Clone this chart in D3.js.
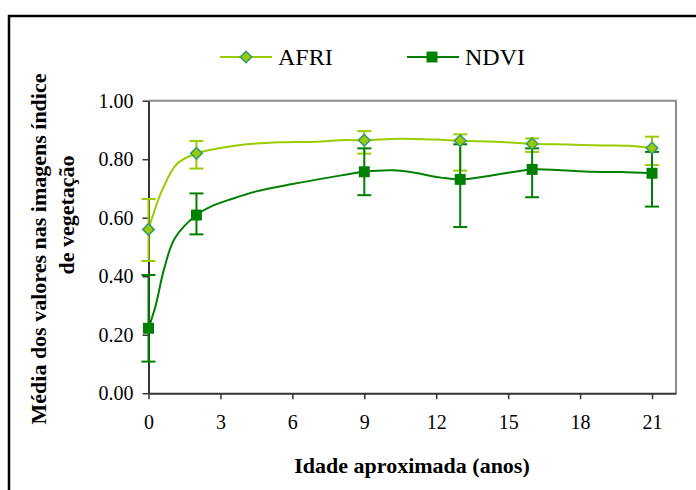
<!DOCTYPE html>
<html lang="pt-br">
<head>
<meta charset="utf-8">
<script src="https://d3js.org/d3.v7.min.js"></script>
<style>
    body { margin: 0; background: #fff; }
    #chart text { font-family: "Liberation Serif", "Times New Roman", serif; fill: #000; }
</style>
</head>
<body>
<div id="chart"></div>
<script>
    "use strict"

    // valores médios (marcadores) e barras de erro
    var ages = [0, 2, 9, 13, 16, 21];
    var afriMean = [0.560, 0.820, 0.865, 0.863, 0.853, 0.838];
    var afriLow = [0.452, 0.768, 0.819, 0.761, 0.825, 0.780];
    var afriHigh = [0.664, 0.862, 0.896, 0.885, 0.871, 0.877];
    var ndviMean = [0.222, 0.609, 0.757, 0.731, 0.765, 0.752];
    var ndviLow = [0.108, 0.543, 0.677, 0.568, 0.670, 0.638];
    var ndviHigh = [0.404, 0.683, 0.837, 0.851, 0.837, 0.825];

    // linhas suavizadas
    var afriCurveX = [0, 0.6, 1.2, 2, 3, 4, 5.5, 7, 8, 9, 10.5, 12, 13, 14.5, 16, 17.5, 19, 20, 21];
    var afriCurveY = [0.56, 0.70, 0.785, 0.82, 0.838, 0.85, 0.858, 0.86, 0.865, 0.865, 0.870, 0.867, 0.863, 0.860, 0.853, 0.850, 0.847, 0.846, 0.838];
    var ndviCurveX = [0, 0.3, 0.65, 1.1, 2, 2.6, 3.5, 4.5, 6, 7.5, 9, 10.2, 11, 12.2, 13, 14.5, 16, 17.2, 18.5, 19.7, 21];
    var ndviCurveY = [0.222, 0.30, 0.425, 0.53, 0.609, 0.638, 0.665, 0.69, 0.715, 0.737, 0.757, 0.762, 0.755, 0.737, 0.731, 0.747, 0.765, 0.762, 0.757, 0.756, 0.752];

    var xTicks = [0, 3, 6, 9, 12, 15, 18, 21];
    var yTicks = [0, 0.2, 0.4, 0.6, 0.8, 1.0];

    var afriColor = "#99cc00", afriEdge = "#339977", ndviColor = "#008000";

    var svg = d3.select("#chart").append("svg")
        .attr("width", 696).attr("height", 490);

    // moldura externa
    svg.append("rect")
        .attr("x", 9).attr("y", 16).attr("width", 720).attr("height", 520)
        .attr("fill", "none").attr("stroke", "#000").attr("stroke-width", 2.5);

    var x = d3.scaleLinear().domain([0, 22]).range([148.5, 676]);
    var y = d3.scaleLinear().domain([0, 1]).range([393.2, 100.7]);

    // borda da área de plotagem
    svg.append("path")
        .attr("d", "M" + x(0) + "," + y(1) + "H" + x(22) + "V" + y(0))
        .attr("fill", "none").attr("stroke", "#8c8c8c").attr("stroke-width", 2);

    var xAxis = svg.append("g")
        .attr("transform", "translate(0," + y(0) + ")")
        .call(d3.axisBottom(x).tickValues(xTicks).tickSize(6).tickSizeOuter(0).tickPadding(16));

    var yAxis = svg.append("g")
        .attr("transform", "translate(" + x(0) + ",0)")
        .call(d3.axisLeft(y).tickValues(yTicks).tickFormat(d3.format(".2f")).tickSize(6).tickSizeOuter(0).tickPadding(9));

    [xAxis, yAxis].forEach(function (ax) {
        ax.select(".domain").attr("stroke", "#333").attr("stroke-width", 2);
        ax.selectAll(".tick line").attr("stroke", "#333").attr("stroke-width", 1.5);
        ax.selectAll("text").attr("font-size", 20).attr("font-family", "Liberation Serif, serif");
    });

    function errorBars(low, high, color) {
        var g = svg.append("g").attr("stroke", color).attr("stroke-width", 2);
        ages.forEach(function (a, i) {
            g.append("line").attr("x1", x(a)).attr("x2", x(a)).attr("y1", y(low[i])).attr("y2", y(high[i]));
            [low[i], high[i]].forEach(function (v) {
                g.append("line").attr("x1", x(a) - 7).attr("x2", x(a) + 7).attr("y1", y(v)).attr("y2", y(v));
            });
        });
    }
    errorBars(afriLow, afriHigh, afriColor);
    errorBars(ndviLow, ndviHigh, ndviColor);

    var line = d3.line().x(function (d) { return x(d[0]); }).y(function (d) { return y(d[1]); })
        .curve(d3.curveCatmullRom.alpha(0.5));

    svg.append("path")
        .attr("d", line(d3.zip(afriCurveX, afriCurveY)))
        .attr("fill", "none").attr("stroke", afriColor).attr("stroke-width", 2);
    svg.append("path")
        .attr("d", line(d3.zip(ndviCurveX, ndviCurveY)))
        .attr("fill", "none").attr("stroke", ndviColor).attr("stroke-width", 2);

    var diamond = d3.symbol().type(d3.symbolDiamond2).size(85);
    var square = d3.symbol().type(d3.symbolSquare).size(120);

    svg.selectAll(".afri").data(ages).enter().append("path")
        .attr("d", diamond)
        .attr("transform", function (d, i) { return "translate(" + x(d) + "," + y(afriMean[i]) + ")"; })
        .attr("fill", afriColor).attr("stroke", afriEdge).attr("stroke-width", 1.5);
    svg.selectAll(".ndvi").data(ages).enter().append("path")
        .attr("d", square)
        .attr("transform", function (d, i) { return "translate(" + x(d) + "," + y(ndviMean[i]) + ")"; })
        .attr("fill", ndviColor);

    // legenda
    var legend = svg.append("g");
    legend.append("line").attr("x1", 220).attr("x2", 272).attr("y1", 57).attr("y2", 57)
        .attr("stroke", afriColor).attr("stroke-width", 2);
    legend.append("path").attr("d", diamond).attr("transform", "translate(246,57)")
        .attr("fill", afriColor).attr("stroke", afriEdge).attr("stroke-width", 1.5);
    legend.append("text").attr("x", 278).attr("y", 65).attr("font-size", 24).text("AFRI");
    legend.append("line").attr("x1", 407).attr("x2", 459).attr("y1", 57).attr("y2", 57)
        .attr("stroke", ndviColor).attr("stroke-width", 2);
    legend.append("path").attr("d", square).attr("transform", "translate(432,57)").attr("fill", ndviColor);
    legend.append("text").attr("x", 465).attr("y", 65).attr("font-size", 24).text("NDVI");

    // títulos dos eixos
    svg.append("text")
        .attr("x", 412).attr("y", 473).attr("text-anchor", "middle")
        .attr("font-size", 22).attr("font-weight", "bold")
        .text("Idade aproximada (anos)");

    svg.append("text")
        .attr("transform", "translate(46,249) rotate(-90)").attr("text-anchor", "middle")
        .attr("font-size", 22).attr("font-weight", "bold")
        .text("Média dos valores nas imagens índice");
    svg.append("text")
        .attr("transform", "translate(74,215) rotate(-90)").attr("text-anchor", "middle")
        .attr("font-size", 22).attr("font-weight", "bold")
        .text("de vegetação");
</script>
</body>
</html>
